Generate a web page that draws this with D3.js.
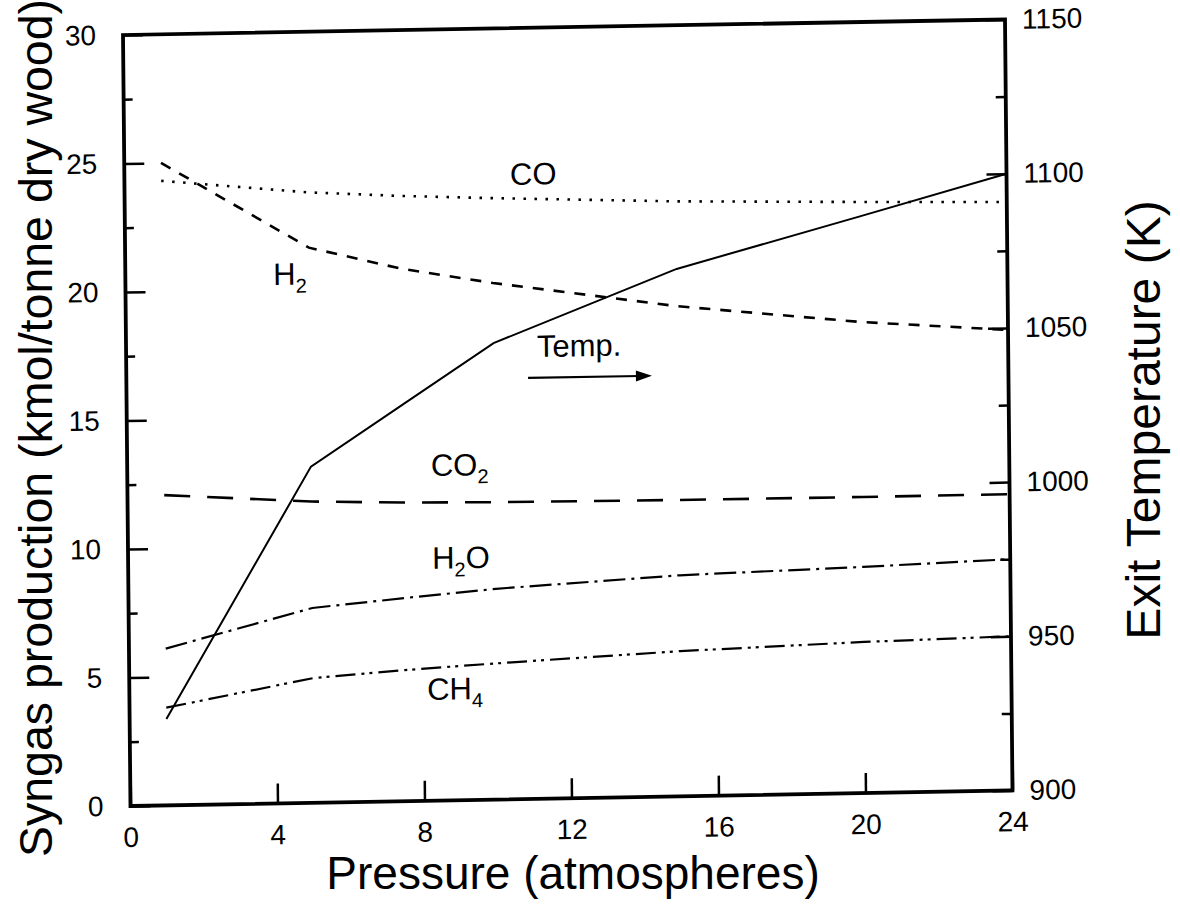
<!DOCTYPE html>
<html>
<head>
<meta charset="utf-8">
<script src="https://cdn.jsdelivr.net/npm/d3@7"></script>
<style>
  body { margin: 0; background: #fff; }
  svg { display: block; font-family: "Liberation Sans", Arial, Helvetica, sans-serif; }
</style>
</head>
<body>
<svg id="chart" width="1180" height="913"></svg>
<script>
// data
const pressure = [1, 5, 7.5, 10, 15, 20, 24];
const coValues  = [24.3, 23.75, 23.55, 23.4, 23.15, 23.0, 22.9];
const h2Values  = [25.0, 21.6, 20.72, 20.1, 19.07, 18.33, 17.92];
const co2Values = [12.07, 11.72, 11.62, 11.57, 11.53, 11.52, 11.53];
const h2oValues = [6.1, 7.58, 7.9, 8.2, 8.6, 8.8, 9.0];
const ch4Values = [3.8, 4.85, 5.1, 5.3, 5.65, 5.88, 6.0];
const tempValues = [928, 1009, 1028.5, 1048, 1071, 1087, 1100];

const pressureTicks = [0, 4, 8, 12, 16, 20, 24];
const syngasTicks = [0, 5, 10, 15, 20, 25, 30];
const syngasMinor = [2.5, 7.5, 12.5, 17.5, 22.5, 27.5];
const tempTicks = [900, 950, 1000, 1050, 1100, 1150];
const tempMinor = [925, 975, 1025, 1075, 1125];

const W = 882, H = 771;
const svg = d3.select('#chart');
svg.append('rect').attr('width', 1180).attr('height', 913).attr('fill', '#fff');

// the scan is a little skewed, so the plot frame gets the same skew
const g = svg.append('g')
    .attr('transform', 'matrix(1,-0.0176,0.0097,1,123,35)');

const x = d3.scaleLinear().domain([0, 24]).range([0, W]);
const yL = d3.scaleLinear().domain([0, 30]).range([H, 0]);
const yR = d3.scaleLinear().domain([900, 1150]).range([H, 0]);

function styleAxis(sel, width) {
    sel.select('.domain').remove();
    sel.selectAll('.tick line').attr('stroke', '#000').attr('stroke-width', width);
    sel.selectAll('text').attr('font-size', 28).attr('fill', '#000')
        .attr('font-family', '"Liberation Sans", Arial, sans-serif');
}

// bottom axis
g.append('g').attr('transform', `translate(0,${H})`)
    .call(d3.axisBottom(x).tickValues(pressureTicks).tickSize(-20).tickPadding(21))
    .call(s => styleAxis(s, 2.5));

// left axis
g.append('g')
    .call(d3.axisLeft(yL).tickValues(syngasTicks).tickSize(-20).tickPadding(27))
    .call(s => styleAxis(s, 2.5));
g.append('g')
    .call(d3.axisLeft(yL).tickValues(syngasMinor).tickSize(-9).tickFormat(''))
    .call(s => styleAxis(s, 2.5));

// right axis
g.append('g').attr('transform', `translate(${W},0)`)
    .call(d3.axisRight(yR).tickValues(tempTicks).tickFormat(d3.format('d'))
        .tickSize(-20).tickPadding(17))
    .call(s => styleAxis(s, 2.5));
g.append('g').attr('transform', `translate(${W},0)`)
    .call(d3.axisRight(yR).tickValues(tempMinor).tickSize(-10).tickFormat(''))
    .call(s => styleAxis(s, 2.5));

// frame
g.append('rect')
    .attr('width', W).attr('height', H)
    .attr('fill', 'none').attr('stroke', '#000').attr('stroke-width', 3.8);

// series lines
const series = [
    { values: coValues,  scale: yL, dash: '2.5,8.5', width: 2.6 },
    { values: h2Values,  scale: yL, dash: '11,10',   width: 2.6 },
    { values: co2Values, scale: yL, dash: '26,17',   width: 2.6 },
    { values: h2oValues, scale: yL, dash: '22,6,3,6', width: 2.2 },
    { values: ch4Values, scale: yL, dash: '20,6,3,5,3,6', width: 2.2 },
    { values: tempValues, scale: yR, dash: null,     width: 2 }
];

series.forEach(s => {
    const line = d3.line()
        .x((d, i) => x(pressure[i]))
        .y(d => s.scale(d));
    g.append('path')
        .datum(s.values)
        .attr('d', line)
        .attr('fill', 'none')
        .attr('stroke', '#000')
        .attr('stroke-width', s.width)
        .attr('stroke-dasharray', s.dash);
});

// curve labels (data coordinates)
function label(p, v, parts) {
    const t = g.append('text')
        .attr('x', x(p)).attr('y', yL(v))
        .attr('font-size', 31).attr('fill', '#000');
    parts.forEach(part => {
        const ts = t.append('tspan').text(part.t);
        if (part.sub) ts.attr('font-size', 20).attr('dy', 8);
        if (part.up) ts.attr('dy', -8);
    });
}
label(10.49, 23.9, [{ t: 'CO' }]);
label(4.02, 20.17, [{ t: 'H' }, { t: '2', sub: true }]);
label(11.18, 17.19, [{ t: 'Temp.' }]);
label(8.26, 12.63, [{ t: 'CO' }, { t: '2', sub: true }]);
label(8.27, 9.02, [{ t: 'H' }, { t: '2', sub: true }, { t: 'O', up: true }]);
label(8.1, 3.92, [{ t: 'CH' }, { t: '4', sub: true }]);

// Temp. arrow
const arrowFrom = [10.93, 16.38], arrowTo = [14.3, 16.38];
g.append('line')
    .attr('x1', x(arrowFrom[0])).attr('y1', yL(arrowFrom[1]))
    .attr('x2', x(arrowTo[0]) - 12).attr('y2', yL(arrowTo[1]))
    .attr('stroke', '#000').attr('stroke-width', 2.2);
g.append('path')
    .attr('transform', `translate(${x(arrowTo[0])},${yL(arrowTo[1])})`)
    .attr('d', 'M0,0 L-16,-5.5 L-16,5.5 Z')
    .attr('fill', '#000');

// axis titles
svg.append('text')
    .attr('transform', 'translate(52,428) rotate(-90)')
    .attr('text-anchor', 'middle')
    .attr('font-size', 46.5)
    .text('Syngas production (kmol/tonne dry wood)');

svg.append('text')
    .attr('transform', 'translate(1160,420) rotate(-90)')
    .attr('text-anchor', 'middle')
    .attr('font-size', 48)
    .text('Exit Temperature (K)');

svg.append('text')
    .attr('x', 573).attr('y', 889)
    .attr('text-anchor', 'middle')
    .attr('font-size', 46)
    .text('Pressure (atmospheres)');
</script>
</body>
</html>
